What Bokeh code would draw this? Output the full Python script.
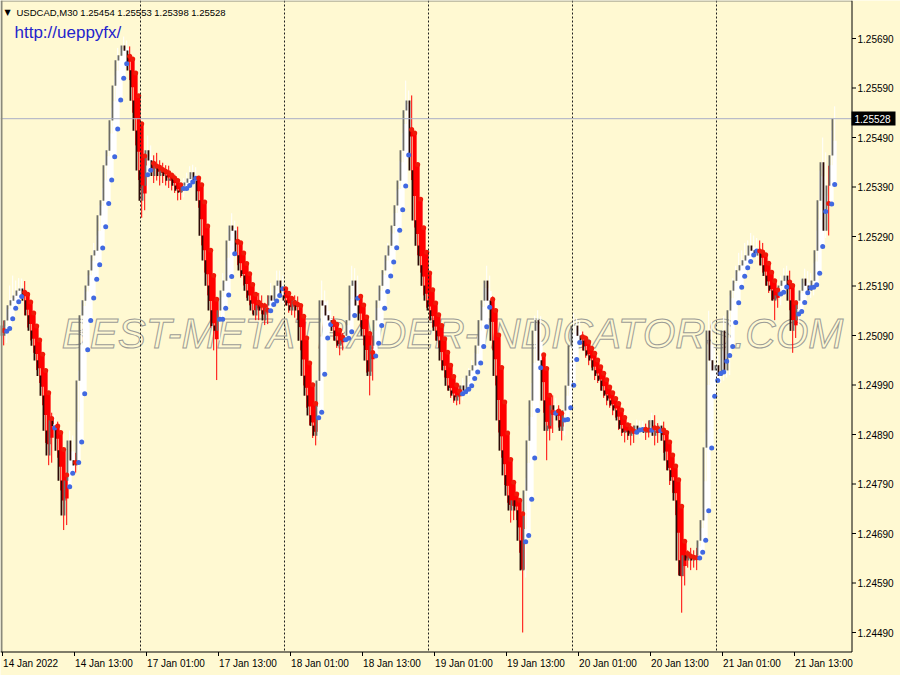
import numpy as np
from bokeh.plotting import figure
from bokeh.models import Range1d, ColumnDataSource
from bokeh.core.properties import value
from bokeh.embed import file_html
from bokeh.resources import INLINE

# ---------------- data (USDCAD M30, prices as points above 1.24000) ----------------
BASE = 1.24
PT = 1e-5
first_open_pts = 1110

close_pts = [
    1090, 1121, 1151, 1161, 1171, 1181, 1185, 1161, 1131, 1100,
    1070, 1040, 1009, 969, 898, 848, 919, 908, 858, 797,
    727, 797, 878, 838, 828, 999, 1131, 1161, 1191, 1222,
    1252, 1262, 1333, 1363, 1434, 1464, 1525, 1595, 1646, 1656,
    1676, 1666, 1626, 1565, 1504, 1424, 1363, 1393, 1464, 1444,
    1413, 1434, 1413, 1424, 1413, 1403, 1407, 1393, 1383, 1379,
    1393, 1399, 1407, 1420, 1403, 1363, 1292, 1242, 1191, 1141,
    1110, 1100, 1141, 1181, 1201, 1282, 1312, 1302, 1252, 1222,
    1211, 1181, 1161, 1141, 1131, 1151, 1141, 1121, 1151, 1171,
    1161, 1191, 1201, 1171, 1161, 1151, 1141, 1161, 1141, 1080,
    1009, 969, 929, 908, 888, 999, 1161, 1151, 1131, 1121,
    1100, 1080, 1070, 1080, 1090, 1121, 1191, 1201, 1151, 1121,
    1090, 1040, 1009, 1070, 1121, 1161, 1191, 1222, 1252, 1272,
    1312, 1353, 1403, 1464, 1545, 1565, 1424, 1323, 1272, 1232,
    1191, 1161, 1141, 1121, 1100, 1080, 1040, 1020, 989, 979,
    969, 959, 969, 989, 979, 1009, 1020, 1030, 1070, 1121,
    1161, 1201, 1161, 1080, 1009, 919, 858, 808, 767, 737,
    757, 737, 676, 616, 777, 878, 959, 1100, 1121, 1040,
    959, 898, 908, 949, 939, 919, 898, 939, 989, 1070,
    1110, 1110, 1090, 1080, 1060, 1050, 1040, 1020, 1009, 999,
    979, 969, 959, 949, 939, 919, 902, 894, 898, 888,
    898, 908, 898, 902, 894, 898, 919, 888, 898, 908,
    878, 838, 818, 797, 757, 636, 605, 646, 636, 646,
    636, 646, 676, 717, 864, 1100, 1040, 1020, 1030, 1009,
    1100, 1020, 1141, 1181, 1201, 1222, 1232, 1242, 1252, 1272,
    1262, 1252, 1262, 1232, 1211, 1191, 1181, 1161, 1171, 1191,
    1201, 1211, 1161, 1100, 1121, 1161, 1181, 1205, 1191, 1181,
    1201, 1262, 1363, 1440, 1302, 1393, 1454, 1528,
]

upper_wick_pts = [
    10, 30, 40, 50, 30, 25, 20, 15, 10, 10,
    8, 10, 12, 10, 8, 10, 15, 10, 8, 10,
    8, 15, 20, 10, 15, 20, 30, 25, 20, 30,
    25, 30, 20, 25, 30, 20, 25, 20, 25, 20,
    18, 10, 8, 10, 6, 8, 10, 15, 30, 10,
    10, 25, 10, 15, 10, 20, 10, 8, 10, 10,
    15, 20, 25, 15, 10, 8, 10, 6, 8, 10,
    8, 10, 30, 35, 40, 30, 25, 10, 8, 10,
    10, 8, 10, 20, 30, 25, 20, 15, 20, 25,
    15, 30, 20, 10, 10, 12, 15, 10, 8, 6,
    8, 6, 10, 8, 10, 20, 40, 20, 10, 10,
    8, 10, 10, 15, 20, 30, 40, 25, 10, 8,
    10, 8, 10, 20, 25, 30, 25, 30, 25, 30,
    25, 30, 40, 35, 60, 20, 10, 8, 10, 8,
    10, 8, 10, 8, 10, 8, 6, 10, 8, 15,
    10, 15, 20, 15, 20, 15, 20, 25, 20, 30,
    35, 30, 10, 8, 10, 8, 6, 8, 10, 8,
    15, 10, 8, 10, 25, 30, 35, 30, 20, 8,
    10, 8, 15, 20, 15, 10, 10, 20, 25, 30,
    25, 15, 10, 8, 10, 8, 10, 8, 10, 8,
    10, 8, 10, 8, 10, 8, 10, 8, 10, 15,
    10, 12, 10, 15, 10, 20, 15, 10, 15, 10,
    8, 10, 8, 10, 8, 10, 8, 15, 10, 15,
    10, 15, 20, 25, 30, 40, 20, 25, 20, 15,
    30, 20, 30, 25, 30, 35, 30, 35, 30, 25,
    20, 25, 20, 15, 10, 8, 10, 8, 15, 20,
    25, 20, 10, 8, 15, 20, 25, 20, 15, 25,
    35, 40, 60, 50, 20, 40, 50, 25,
]

lower_wick_pts = [
    20, 15, 10, 10, 8, 10, 8, 30, 25, 20,
    15, 20, 15, 20, 25, 20, 15, 20, 15, 20,
    30, 20, 15, 20, 15, 10, 8, 10, 8, 10,
    8, 10, 6, 8, 10, 8, 10, 8, 8, 10,
    10, 15, 20, 25, 30, 20, 35, 20, 10, 20,
    15, 10, 20, 15, 20, 15, 20, 15, 20, 15,
    10, 8, 10, 8, 20, 15, 20, 25, 20, 35,
    50, 100, 20, 10, 10, 8, 10, 15, 20, 15,
    20, 15, 10, 8, 10, 10, 8, 10, 8, 10,
    10, 8, 10, 15, 10, 15, 10, 15, 20, 20,
    20, 25, 20, 25, 20, 10, 8, 10, 15, 20,
    20, 15, 20, 10, 10, 8, 10, 10, 20, 15,
    20, 25, 40, 10, 8, 10, 8, 6, 8, 10,
    8, 10, 8, 10, 8, 10, 20, 15, 20, 15,
    20, 15, 20, 15, 20, 15, 20, 15, 10, 15,
    15, 10, 8, 10, 8, 10, 8, 6, 8, 10,
    8, 10, 15, 20, 20, 25, 15, 20, 15, 25,
    20, 20, 25, 126, 15, 10, 8, 10, 15, 20,
    25, 60, 20, 15, 20, 15, 20, 10, 8, 10,
    10, 15, 15, 20, 15, 20, 15, 20, 15, 20,
    15, 20, 15, 20, 15, 20, 15, 20, 15, 20,
    15, 10, 15, 10, 15, 10, 15, 20, 15, 20,
    25, 20, 30, 25, 30, 30, 75, 20, 15, 20,
    15, 20, 10, 8, 10, 8, 15, 20, 10, 15,
    10, 15, 10, 8, 10, 8, 10, 8, 10, 8,
    15, 10, 20, 15, 20, 15, 20, 40, 15, 20,
    15, 10, 20, 45, 15, 10, 8, 10, 20, 15,
    10, 8, 15, 10, 15, 10, 8, 56,
]

tick_bars = [0, 24, 48, 72, 96, 120, 144, 168, 192, 216, 240, 264]
tick_labels = ["14 Jan 2022", "14 Jan 13:00", "17 Jan 01:00", "17 Jan 13:00",
               "18 Jan 01:00", "18 Jan 13:00", "19 Jan 01:00", "19 Jan 13:00",
               "20 Jan 01:00", "20 Jan 13:00", "21 Jan 01:00", "21 Jan 13:00"]
day_start_bars = [46, 94, 142, 190, 238]
price_ticks = [round(1.24490 + 0.001 * k, 5) for k in range(13)]
bid_price = 1.25528
header_text = "USDCAD,M30  1.25454 1.25553 1.25398 1.25528"
url_text = "http://ueppyfx/"
watermark_text = "BEST-METATRADER-INDICATORS.COM"

# ---------------- screen layout helpers (pixel -> data space) ----------------
W, H = 900, 675
BAR_PX, BAR0_PX = 3.0, 2.0           # 3 px per M30 bar, first bar centre at x=2
REF_PRICE, REF_PY, PX_PER_PRICE = 1.25690, 38.0, 49500.0


def X(px):
    return (px - BAR0_PX) / BAR_PX


def Y(py):
    return REF_PRICE - (py - REF_PY) / PX_PER_PRICE


AXIS_X, AXIS_Y = 851.5, 651.5

# ---------------- OHLC + Heiken Ashi indicator ----------------
close = BASE + np.array(close_pts) * PT
open_ = np.concatenate([[BASE + first_open_pts * PT], close[:-1]])
high = np.maximum(open_, close) + np.array(upper_wick_pts) * PT
low = np.minimum(open_, close) - np.array(lower_wick_pts) * PT
idx = np.arange(len(close))

ha_close = (open_ + high + low + close) / 4
ha_open = np.empty_like(ha_close)
ha_open[0] = (open_[0] + close[0]) / 2
for k in range(1, len(ha_close)):
    ha_open[k] = (ha_open[k - 1] + ha_close[k - 1]) / 2
ha_high = np.maximum.reduce([high, ha_open, ha_close])
ha_low = np.minimum.reduce([low, ha_open, ha_close])
bull = ha_close >= ha_open

BG = "#FFF9D2"
src = ColumnDataSource(dict(
    x=idx, xh=idx + 0.4, xc=idx - 0.35, o=open_, c=close, h=high, l=low,
    hao=ha_open, hac=ha_close, hah=ha_high, hal=ha_low,
    hacol=np.where(bull, "#FFFFFF", "#FF0000"),
    ccol=np.where(close >= open_, "#6B6B66", "#2A0A06"),
    dcol=np.where(bull, "#4169E1", "#F01A0A"),
    btop=np.maximum(open_, close), bbot=np.minimum(open_, close) - 0.6 * PT,
))

p = figure(width=W, height=H, output_backend="svg", toolbar_location=None,
           x_range=Range1d(X(0), X(W)), y_range=Range1d(Y(H), Y(0)),
           x_axis_location=None, y_axis_location=None,
           min_border_left=0, min_border_top=0, min_border_right=0, min_border_bottom=0)
p.background_fill_color = BG
p.border_fill_color = BG
p.outline_line_color = None
p.xgrid.visible = False
p.ygrid.visible = False

# watermark
p.text(x=[X(452)], y=[Y(333)], text=[watermark_text],
       text_font=value("Liberation Sans"), text_font_style="italic", text_font_size="42px",
       text_align="center", text_baseline="middle", text_color=BG,
       text_outline_color="#9C9C96")

# Heiken Ashi histogram (thin high-low, wide open-close)
p.segment(x0="xh", y0="hah", x1="xh", y1="hal", line_color="hacol", line_width=1, source=src)
p.vbar(x="xh", top="hao", bottom="hac", width=1.3, fill_color="hacol", line_color=None, source=src)
# price candles
p.vbar(x="xc", top="btop", bottom="bbot", width=0.6, fill_color="ccol", line_color=None, source=src)
# Heiken Ashi open dots
p.scatter(x="xh", y="hao", size=5, fill_color="dcol", line_color=None, source=src)

# day separators and bid line
p.segment(x0=day_start_bars, y0=[Y(0)] * len(day_start_bars), x1=day_start_bars,
          y1=[Y(AXIS_Y)] * len(day_start_bars), line_color="#1E1E1E", line_dash="2 2", line_width=1)
p.segment(x0=[X(0)], y0=[bid_price], x1=[X(AXIS_X)], y1=[bid_price], line_color="#A9AEC6", line_width=1)

# chart border (left / top) and axes lines
p.segment(x0=[X(1), X(0)], y0=[Y(0), Y(0.5)], x1=[X(1), X(AXIS_X)], y1=[Y(AXIS_Y), Y(0.5)],
          line_color="#8A8A7C", line_width=[2, 1])
p.segment(x0=[X(AXIS_X), X(0)], y0=[Y(0), Y(AXIS_Y)], x1=[X(AXIS_X), X(AXIS_X)], y1=[Y(AXIS_Y), Y(AXIS_Y)],
          line_color="#000000", line_width=1)

# price axis (right)
p.segment(x0=[X(AXIS_X)] * len(price_ticks), y0=price_ticks, x1=[X(AXIS_X + 4)] * len(price_ticks),
          y1=price_ticks, line_color="#000000", line_width=1)
p.text(x=[X(857)] * len(price_ticks), y=price_ticks, text=[f"{t:.5f}" for t in price_ticks],
       text_font=value("Liberation Sans"), text_font_size="10px", text_color="#000000",
       text_align="left", text_baseline="middle")
p.quad(left=[X(851)], right=[X(895)], top=[Y(111)], bottom=[Y(125)], fill_color="#000000", line_color=None)
p.text(x=[X(854)], y=[bid_price], text=[f"{bid_price:.5f}"],
       text_font=value("Liberation Sans"), text_font_size="10px", text_color="#FFFFFF",
       text_align="left", text_baseline="middle")

# time axis (bottom)
p.segment(x0=tick_bars, y0=[Y(AXIS_Y)] * len(tick_bars), x1=tick_bars, y1=[Y(AXIS_Y + 4)] * len(tick_bars),
          line_color="#000000", line_width=1)
p.text(x=[t + 0.2 for t in tick_bars], y=[Y(657)] * len(tick_bars), text=tick_labels,
       text_font=value("Liberation Sans"), text_font_size="10px", text_color="#000000",
       text_align="left", text_baseline="top")

# header texts
p.text(x=[X(4)], y=[Y(12)], text=["\u25BC"], text_font=value("DejaVu Sans"), text_font_size="8px",
       text_color="#000000", text_align="left", text_baseline="middle")
p.text(x=[X(16)], y=[Y(12)], text=[header_text], text_font=value("Liberation Sans"),
       text_font_size="9.5px", text_color="#000000", text_align="left", text_baseline="middle")
p.text(x=[X(14)], y=[Y(32)], text=[url_text], text_font=value("Liberation Sans"),
       text_font_size="17px", text_color="#2424CC", text_align="left", text_baseline="middle")

open("out.html", "w").write(file_html(p, INLINE))
